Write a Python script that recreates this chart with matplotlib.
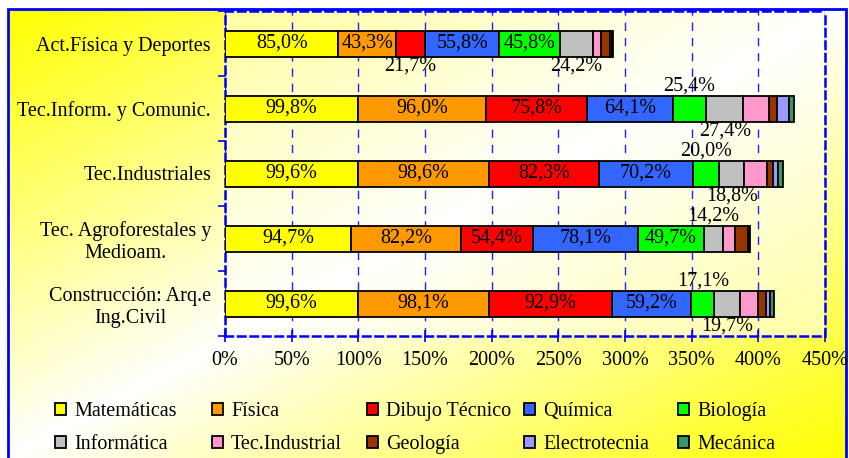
import numpy as np
import matplotlib
matplotlib.use("Agg")
import matplotlib.pyplot as plt
from matplotlib.patches import Patch, Rectangle

plt.rcParams['font.family'] = ['Liberation Serif', 'DejaVu Serif']

# categories, top to bottom
cats = ['Act.Física y Deportes', 'Tec.Inform. y Comunic.', 'Tec.Industriales',
        'Tec. Agroforestales y\nMedioam.', 'Construcción: Arq.e\nIng.Civil']

# percentages per subject
matematicas = [85.0, 99.8, 99.6, 94.7, 99.6]
fisica = [43.3, 96.0, 98.6, 82.2, 98.1]
dibujo = [21.7, 75.8, 82.3, 54.4, 92.9]
quimica = [55.8, 64.1, 70.2, 78.1, 59.2]
biologia = [45.8, 25.4, 20.0, 49.7, 17.1]
informatica = [24.2, 27.4, 18.8, 14.2, 19.7]
tec_industrial = [6.0, 19.5, 17.0, 9.0, 13.5]
geologia = [6.7, 6.2, 4.5, 10.0, 5.5]
electrotecnia = [2.0, 8.7, 3.7, 1.0, 3.0]
mecanica = [0.5, 4.0, 3.7, 0.5, 3.0]

names = ['Matemáticas', 'Física', 'Dibujo Técnico', 'Química', 'Biología',
         'Informática', 'Tec.Industrial', 'Geología', 'Electrotecnia', 'Mecánica']
series = [matematicas, fisica, dibujo, quimica, biologia,
          informatica, tec_industrial, geologia, electrotecnia, mecanica]
colors = ['#FFFF00', '#FF9900', '#FF0000', '#3366FF', '#00FF00',
          '#C0C0C0', '#FF99CC', '#993300', '#9999FF', '#339966']

# where the value label of the first six series sits: in / up / down
label_pos = [
    ['in', 'in', 'down', 'in', 'in', 'down'],
    ['in', 'in', 'in', 'in', 'up', 'down'],
    ['in', 'in', 'in', 'in', 'up', 'down'],
    ['in', 'in', 'in', 'in', 'in', 'up'],
    ['in', 'in', 'in', 'in', 'up', 'down'],
]

FS = 14.5
W, H = 849, 458
fig = plt.figure(figsize=(W / 100, H / 100), dpi=100)

# background gradient (yellow corners, white diagonal band)
bg = fig.add_axes([0, 0, 1, 1])
bg.set_xlim(0, 1)
bg.set_ylim(0, 1)
bg.set_axis_off()
x0, x1 = 8 / W, 846 / W
y1 = 1 - 9 / H
gx = np.linspace(0, 1, 300)
gy = np.linspace(0, 1, 200)
GX, GY = np.meshgrid(gx, gy)
t = (GX + GY) / 2
inten = np.abs(2 * t - 1)
img = np.dstack([np.ones_like(inten), np.ones_like(inten), 1 - inten])
bg.imshow(img, extent=(x0, x1, 0, y1), origin='upper', aspect='auto', zorder=0)
bg.add_patch(Rectangle((x0, -0.05), x1 - x0, y1 + 0.05, fill=False,
                       edgecolor='#0000FF', linewidth=2, zorder=1))

ax = fig.add_axes([225 / W, 1 - 336 / H, 600 / W, 325 / H])
ax.set_facecolor((1, 1, 1, 0.5))
y = np.arange(len(cats))
left = np.zeros(len(cats))
for i, (vals, c) in enumerate(zip(series, colors)):
    vals = np.array(vals)
    ax.barh(y, vals, left=left, height=0.4, color=c, edgecolor='black',
            linewidth=1.3, zorder=3)
    if i < 6:
        for j, v in enumerate(vals):
            pos = label_pos[j][i]
            yy = y[j] + {'in': 0, 'up': -0.34, 'down': 0.35}[pos]
            ax.text(left[j] + v / 2, yy, f'{v:.1f}%'.replace('.', ','),
                    ha='center', va='center', fontsize=FS, zorder=4)
    left += vals

ax.set_xlim(0, 450)
ax.set_ylim(len(cats) - 0.5, -0.5)
ax.set_xticks(np.arange(0, 451, 50))
ax.set_xticklabels([f'{v}%' for v in range(0, 451, 50)], fontsize=FS)
ax.set_yticks(y)
ax.set_yticklabels(cats, fontsize=FS, multialignment='center')
ax.set_yticks(np.arange(-0.5, len(cats), 1), minor=True)
ax.tick_params(axis='y', which='major', length=0, pad=10)
ax.tick_params(axis='y', which='minor', length=5, direction='out', color='#0000FF', width=1.2)
ax.tick_params(axis='x', length=8, direction='inout', color='#0000FF', width=1.2, pad=7)
ax.grid(axis='x', color='#2020FF', linestyle=(0, (6, 5)), linewidth=1, zorder=1)
for s in ax.spines.values():
    s.set_color('#0000FF')
    s.set_linestyle((0, (3, 2)))
    s.set_linewidth(1.8)

# legend in five columns of two
handles = [Patch(facecolor=c, edgecolor='black', linewidth=1.3) for c in colors]
col_x = [55, 212, 367, 524, 678]
for k, cx in enumerate(col_x):
    idx = [k, k + 5]
    fig.legend([handles[n] for n in idx], [names[n] for n in idx],
               loc='upper left', bbox_to_anchor=(cx / W, 1 - 402 / H),
               frameon=False, fontsize=FS, handlelength=0.55, handleheight=0.55,
               handletextpad=0.4, labelspacing=0.7, borderpad=0, borderaxespad=0)

fig.savefig('out.png', dpi=100)
